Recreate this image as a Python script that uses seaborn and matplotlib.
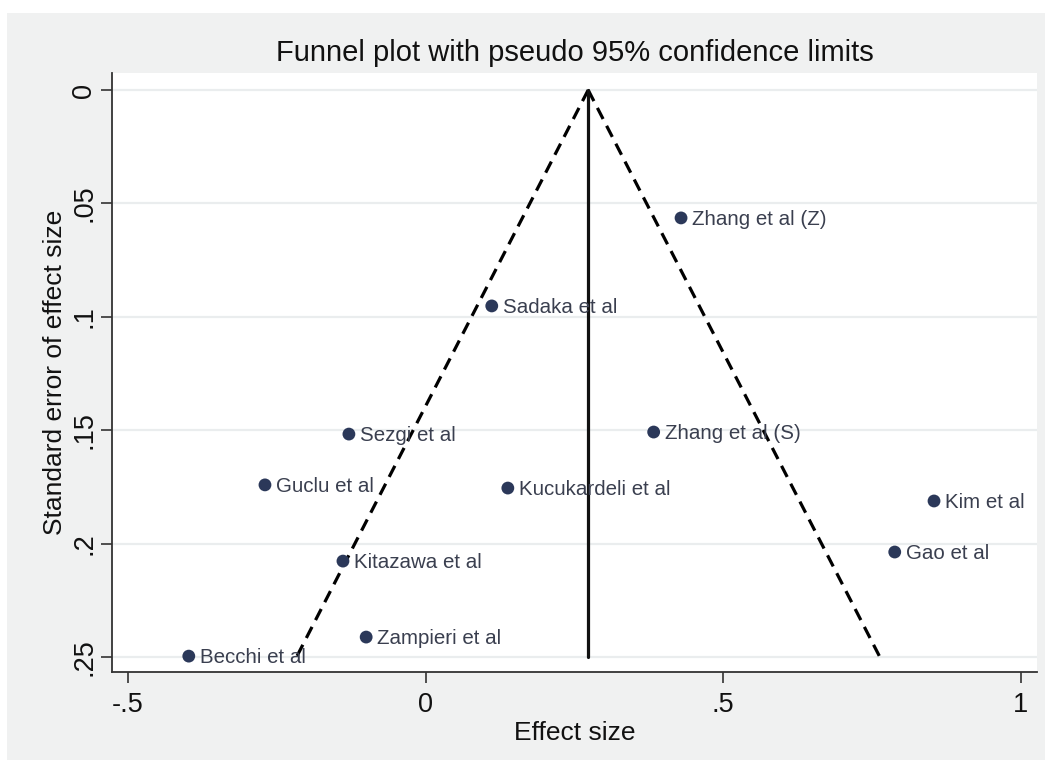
import matplotlib
matplotlib.use("Agg")
import matplotlib.pyplot as plt
from matplotlib.patches import Rectangle
import numpy as np
import pandas as pd
import seaborn as sns

# ---- data ----
studies = ["Zhang et al (Z)", "Sadaka et al", "Sezgi et al", "Zhang et al (S)",
           "Guclu et al", "Kucukardeli et al", "Kim et al", "Gao et al",
           "Kitazawa et al", "Zampieri et al", "Becchi et al"]
effect = [0.429, 0.111, -0.129, 0.383, -0.270, 0.138, 0.854, 0.788, -0.139, -0.100, -0.398]
std_err = [0.0564, 0.0952, 0.1517, 0.1508, 0.1741, 0.1755, 0.1812, 0.2037, 0.2077, 0.2412, 0.2496]
pooled_effect = 0.273
se_max = 0.25
z95 = 1.96
x_ticks = [-0.5, 0, 0.5, 1]
x_ticklabels = ["-.5", "0", ".5", "1"]
y_ticks = [0, 0.05, 0.1, 0.15, 0.2, 0.25]
y_ticklabels = ["0", ".05", ".1", ".15", ".2", ".25"]

df = pd.DataFrame({"study": studies, "effect": effect, "se": std_err})
se_line = np.array([0.0, se_max])
funnel = pd.DataFrame({
    "se": np.concatenate([se_line, se_line]),
    "x": np.concatenate([pooled_effect - z95 * se_line, pooled_effect + z95 * se_line]),
    "side": ["lo", "lo", "hi", "hi"],
})

sns.set_theme(style="white")
plt.rcParams["font.family"] = ["Liberation Sans", "DejaVu Sans"]

W, H = 1052, 772
fig = plt.figure(figsize=(W / 100, H / 100), dpi=100, facecolor="white")
bg = Rectangle((7 / W, 1 - 760 / H), (1045 - 7) / W, (760 - 13) / H,
               transform=fig.transFigure, facecolor="#F0F1F1",
               edgecolor="none", zorder=-5)
fig.add_artist(bg)
ax = fig.add_axes([112 / W, 1 - 672 / H, (1037 - 112) / W, (672 - 73) / H])
ax.set_zorder(1)
ax.set_facecolor("white")

# gridlines
for yt in y_ticks:
    ax.axhline(yt, color="#EAEDEE", lw=1.6, zorder=0)

# funnel limits
for side, g in funnel.groupby("side"):
    ax.plot(g["x"], g["se"], color="black", lw=2.3, dashes=(3.9, 2.4), zorder=2)
ax.plot([pooled_effect, pooled_effect], [0, se_max], color="#111111", lw=2.3, zorder=2)

sns.scatterplot(data=df, x="effect", y="se", ax=ax, s=85, color="#2B3859",
                edgecolor="none", zorder=3, legend=False)
for _, r in df.iterrows():
    ax.annotate(r["study"], (r["effect"], r["se"]), xytext=(8, -1),
                textcoords="offset points", ha="left", va="center",
                fontsize=14.8, color="#3A3F4F", zorder=4)

ax.set_xlim(-0.527, 1.027)
ax.set_ylim(0.2566, -0.0075)
ax.set_xticks(x_ticks)
ax.set_xticklabels(x_ticklabels)
ax.set_yticks(y_ticks)
ax.set_yticklabels(y_ticklabels, rotation=90, va="center")
ax.tick_params(axis="both", direction="out", length=8, width=1.2, color="#333333",
               labelsize=19.5, labelcolor="#111111", left=True, bottom=True)
ax.tick_params(axis="x", pad=6.5)
ax.tick_params(axis="y", pad=2.5)
for s in ["top", "right"]:
    ax.spines[s].set_visible(False)
for s in ["left", "bottom"]:
    ax.spines[s].set_color("#333333")
    ax.spines[s].set_linewidth(1.3)

ax.set_xlabel("Effect size", fontsize=19, color="#111111", va="center")
ax.set_ylabel("Standard error of effect size", fontsize=19, color="#111111", va="center")
ax.xaxis.set_label_coords(0.5, (672 - 733) / (672 - 73))
ax.yaxis.set_label_coords((55 - 112) / (1037 - 112), 0.5)
fig.text((112 + 1037) / 2 / W, 1 - 53 / H, "Funnel plot with pseudo 95% confidence limits",
         ha="center", va="center", fontsize=21, color="#111111")

fig.savefig("out.png", dpi=100, facecolor=fig.get_facecolor())
